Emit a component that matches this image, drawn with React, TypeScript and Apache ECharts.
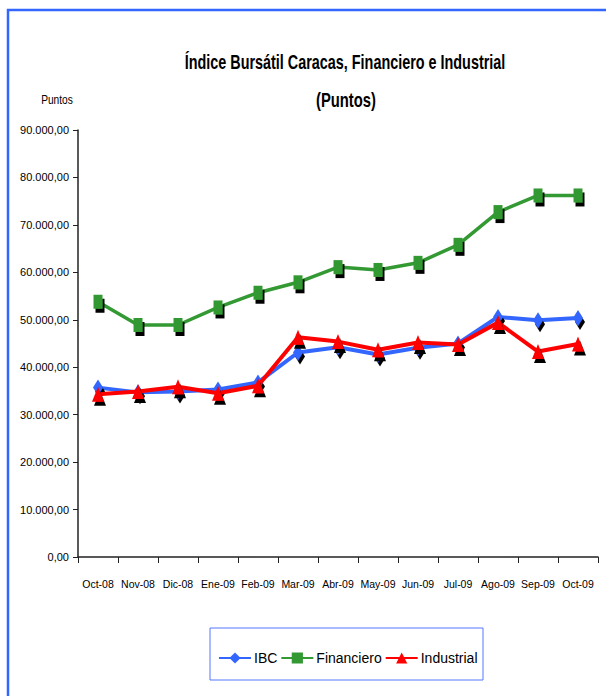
import React, { useEffect, useRef } from "react";
import * as echarts from "echarts";

const categories = ["Oct-08", "Nov-08", "Dic-08", "Ene-09", "Feb-09", "Mar-09", "Abr-09", "May-09", "Jun-09", "Jul-09", "Ago-09", "Sep-09", "Oct-09"];
const ibc = [35700, 34700, 34900, 35300, 36800, 43100, 44200, 42700, 44100, 45000, 50600, 49900, 50400];
const financiero = [53800, 48900, 48900, 52600, 55700, 57900, 61100, 60500, 62000, 65800, 72700, 76200, 76200];
const industrial = [34300, 34900, 35900, 34500, 36100, 46300, 45400, 43700, 45200, 44800, 49400, 43300, 44900];

const FONT = "'Liberation Sans', Arial, sans-serif";

function fmt(v: number): string {
  const s = Math.round(v).toString().replace(/\B(?=(\d{3})+(?!\d))/g, ".");
  return s + ",00";
}

export default function App() {
  const ref = useRef<HTMLDivElement>(null);
  useEffect(() => {
    document.body.style.margin = "0";
    const chart = echarts.init(ref.current!, null, { renderer: "svg" });
    const shadow = { shadowColor: "#000", shadowBlur: 1, shadowOffsetX: 2, shadowOffsetY: 4 };
    chart.setOption({
      animation: false,
      backgroundColor: "#fff",
      graphic: [
        { type: "rect", shape: { x: 8, y: 10, width: 640, height: 720 }, style: { fill: "none", stroke: "#3366ff", lineWidth: 2.5 } },
        { type: "rect", shape: { x: 210, y: 628, width: 273, height: 52 }, style: { fill: "none", stroke: "#5577ff", lineWidth: 1 } },
        {
          type: "text", x: 345, y: 62, scaleX: 0.72,
          style: { text: "Índice Bursátil Caracas, Financiero e Industrial", align: "center", verticalAlign: "middle", fontFamily: FONT, fontSize: 20, fontWeight: "bold", fill: "#000" },
        },
        {
          type: "text", x: 346, y: 100, scaleX: 0.74,
          style: { text: "(Puntos)", align: "center", verticalAlign: "middle", fontFamily: FONT, fontSize: 20, fontWeight: "bold", fill: "#000" },
        },
        {
          type: "text", x: 57, y: 100, scaleX: 0.85,
          style: { text: "Puntos", align: "center", verticalAlign: "middle", fontFamily: FONT, fontSize: 12, fill: "#000" },
        },
      ],
      legend: {
        left: 213,
        top: 646,
        itemGap: 3,
        itemWidth: 32,
        itemHeight: 14,
        textStyle: { fontFamily: FONT, fontSize: 14, color: "#000", padding: [0, 0, 0, -2] },
        data: ["IBC", "Financiero", "Industrial"],
      },
      grid: { left: 78, right: 8, top: 130, bottom: 139 },
      xAxis: {
        type: "category",
        data: categories,
        boundaryGap: true,
        axisLine: { lineStyle: { color: "#222", width: 1.5 } },
        axisTick: { show: true, alignWithLabel: false, length: 6, lineStyle: { color: "#222" } },
        axisLabel: { fontFamily: FONT, fontSize: 10.5, color: "#000", margin: 21, interval: 0 },
      },
      yAxis: {
        type: "value",
        min: 0,
        max: 90000,
        interval: 10000,
        splitLine: { show: false },
        axisLine: { show: true, lineStyle: { color: "#222", width: 1.5 } },
        axisTick: { show: true, inside: false, length: 5, lineStyle: { color: "#222" } },
        axisLabel: { fontFamily: FONT, fontSize: 11, color: "#000", margin: 9, formatter: (v: number) => fmt(v) },
      },
      series: [
        {
          name: "IBC",
          type: "line",
          data: ibc,
          symbol: "diamond",
          symbolSize: [10, 16],
          color: "#3366ff",
          lineStyle: { width: 4, color: "#3366ff" },
          itemStyle: { color: "#3366ff", ...shadow },
          z: 3,
        },
        {
          name: "Financiero",
          type: "line",
          data: financiero,
          symbol: "rect",
          symbolSize: [9, 14],
          color: "#339933",
          lineStyle: { width: 3.5, color: "#339933" },
          itemStyle: { color: "#339933", ...shadow },
          z: 2,
        },
        {
          name: "Industrial",
          type: "line",
          data: industrial,
          symbol: "triangle",
          symbolSize: [12, 15],
          color: "#ff0000",
          lineStyle: { width: 4, color: "#ff0000" },
          itemStyle: { color: "#ff0000", ...shadow },
          z: 4,
        },
      ],
    });
    return () => chart.dispose();
  }, []);
  return <div ref={ref} style={{ width: 606, height: 696 }} />;
}
